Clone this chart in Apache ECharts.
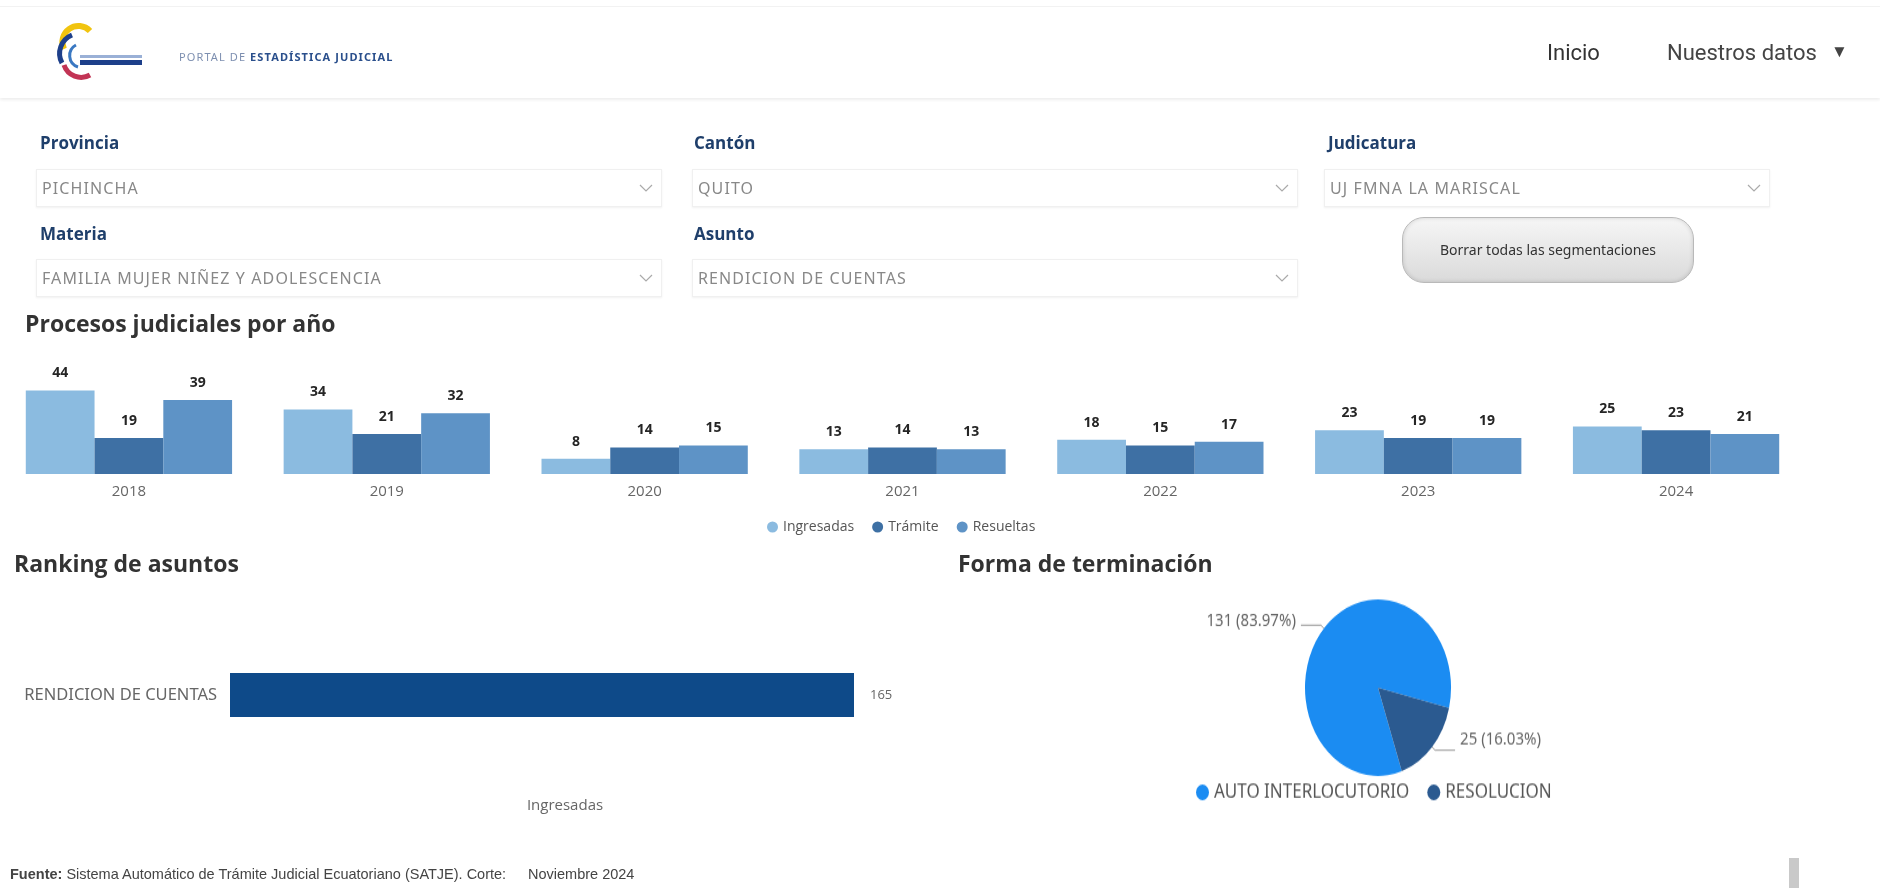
<!DOCTYPE html>
<html>
<head>
<meta charset="utf-8">
<script src="https://cdn.jsdelivr.net/npm/echarts/dist/echarts.min.js"></script>
<style>
  html, body { margin:0; padding:0; background:#fff; width:1880px; height:888px; overflow:hidden; font-family:"Open Sans","Noto Sans",Arial,sans-serif; }
  #chart { position:absolute; left:0; top:0; width:1880px; height:888px; }
  #pie { position:absolute; left:950px; top:580px; width:700px; height:200px; transform:scaleY(1.21); transform-origin:0 0; }
  .abs { position:absolute; white-space:nowrap; }
  #header { position:absolute; left:0; top:6px; width:1880px; height:91px; background:#fff; border-top:1px solid #f2f2f2; box-shadow:0 2px 3px rgba(0,0,0,0.07); }
  .flabel { position:absolute; font-weight:700; font-size:17px; color:#1f3f6b; }
  .fbox { position:absolute; height:36px; background:#fff; border:1px solid #f0f0f0; box-shadow:0 1px 2px rgba(0,0,0,0.06); }
  .fbox span { position:absolute; left:5px; top:7px; font-size:16px; letter-spacing:1.1px; color:#888; font-family:"Noto Sans",Arial,sans-serif; }
  .fbox svg { position:absolute; right:8px; top:14px; }
  #btn { position:absolute; left:1402px; top:217px; width:290px; height:64px; border-radius:22px; background:linear-gradient(#f6f6f6,#dadada); border:1px solid #b9b9b9; box-shadow:inset 0 0 4px rgba(0,0,0,0.15); font-size:14px; color:#333; text-align:center; line-height:64px; font-family:"Noto Sans",Arial,sans-serif; }
  .foot { position:absolute; top:866px; font-size:14.5px; color:#444; font-family:Arial,'Liberation Sans',sans-serif; white-space:nowrap; }
</style>
</head>
<body>
<div id="chart"></div>
<div id="pie"></div>

<div id="header">
  <svg class="abs" style="left:50px;top:12px" width="100" height="66" viewBox="0 0 100 66">
    <path d="M14 30 A16 16 0 0 1 40 12" fill="none" stroke="#f1c40f" stroke-width="6"/>
    <path d="M22 16 A20 20 0 0 0 12 44" fill="none" stroke="#1d3f8a" stroke-width="5"/>
    <path d="M14 46 A18 18 0 0 0 40 56" fill="none" stroke="#c23455" stroke-width="5"/>
    <path d="M26 26 A12 12 0 0 0 28 48" fill="none" stroke="#3a78c2" stroke-width="3"/>
    <rect x="30" y="36" width="62" height="3" fill="#9ab0d6"/>
    <rect x="30" y="41" width="62" height="5" fill="#1d3f8a"/>
  </svg>
  <div class="abs" style="left:179px;top:42px;font-size:11px;letter-spacing:1.1px;color:#7d8fb0;font-family:'Noto Sans',Arial,sans-serif">PORTAL DE <b style="color:#2a4f8c">ESTADÍSTICA JUDICIAL</b></div>
  <div class="abs" style="left:1547px;top:33px;font-size:22px;color:#333;font-family:Roboto,Arial,sans-serif">Inicio</div>
  <div class="abs" style="left:1667px;top:33px;font-size:22px;color:#444;font-family:Roboto,Arial,sans-serif">Nuestros datos<span style="font-size:17px;position:relative;top:-3px;margin-left:14px">&#9660;</span></div>
</div>

<div class="flabel" style="left:40px;top:131px">Provincia</div>
<div class="fbox" style="left:36px;top:169px;width:624px"><span>PICHINCHA</span><svg width="14" height="8"><polyline points="1,1 7,7 13,1" fill="none" stroke="#aaa" stroke-width="1.2"/></svg></div>
<div class="flabel" style="left:694px;top:131px">Cantón</div>
<div class="fbox" style="left:692px;top:169px;width:604px"><span>QUITO</span><svg width="14" height="8"><polyline points="1,1 7,7 13,1" fill="none" stroke="#aaa" stroke-width="1.2"/></svg></div>
<div class="flabel" style="left:1328px;top:131px">Judicatura</div>
<div class="fbox" style="left:1324px;top:169px;width:444px"><span>UJ FMNA LA MARISCAL</span><svg width="14" height="8"><polyline points="1,1 7,7 13,1" fill="none" stroke="#aaa" stroke-width="1.2"/></svg></div>

<div class="flabel" style="left:40px;top:222px">Materia</div>
<div class="fbox" style="left:36px;top:259px;width:624px"><span>FAMILIA MUJER NIÑEZ Y ADOLESCENCIA</span><svg width="14" height="8"><polyline points="1,1 7,7 13,1" fill="none" stroke="#aaa" stroke-width="1.2"/></svg></div>
<div class="flabel" style="left:694px;top:222px">Asunto</div>
<div class="fbox" style="left:692px;top:259px;width:604px"><span>RENDICION DE CUENTAS</span><svg width="14" height="8"><polyline points="1,1 7,7 13,1" fill="none" stroke="#aaa" stroke-width="1.2"/></svg></div>

<div id="btn">Borrar todas las segmentaciones</div>

<div class="foot" style="left:10px"><b>Fuente:</b> Sistema Automático de Trámite Judicial Ecuatoriano (SATJE). Corte:</div>
<div class="foot" style="left:528px">Noviembre 2024</div>
<div class="abs" style="left:1789px;top:858px;width:10px;height:30px;background:#c9c9c9"></div>

<script>
// ---- data ----
const years = ['2018', '2019', '2020', '2021', '2022', '2023', '2024'];
const ingresadas = [44, 34, 8, 13, 18, 23, 25];
const tramite = [19, 21, 14, 14, 15, 19, 23];
const resueltas = [39, 32, 15, 13, 17, 19, 21];
const seriesNames = ['Ingresadas', 'Trámite', 'Resueltas'];

const asuntos = ['RENDICION DE CUENTAS'];
const asuntosIngresadas = [165];

const formas = ['AUTO INTERLOCUTORIO', 'RESOLUCION'];
const formasValores = [131, 25];

// ---- styles ----
const barColors = ['#8bbbe0', '#3e70a4', '#5e93c6'];
const titleStyle = { fontSize: 23, fontWeight: 'bold', color: '#333', fontFamily: 'Open Sans' };
const valueLabel = { show: true, position: 'top', distance: 10, fontSize: 14, fontWeight: 'bold', color: '#252525', fontFamily: 'Open Sans' };

const chart = echarts.init(document.getElementById('chart'), null, { renderer: 'canvas' });

const yearSeries = [ingresadas, tramite, resueltas].map((vals, i) => ({
  name: seriesNames[i],
  type: 'bar',
  xAxisIndex: 0, yAxisIndex: 0,
  data: vals,
  barGap: '0%',
  barCategoryGap: '20%',
  itemStyle: { color: barColors[i] },
  label: valueLabel
}));

chart.setOption({
  animation: false,
  textStyle: { fontFamily: 'Open Sans' },
  title: [
    { text: 'Procesos judiciales por año', left: 25, top: 314, padding: 0, textStyle: titleStyle },
    { text: 'Ranking de asuntos', left: 14, top: 554, padding: 0, textStyle: titleStyle },
    { text: 'Forma de terminación', left: 958, top: 554, padding: 0, textStyle: titleStyle }
  ],
  legend: [
    {
      data: seriesNames, left: 767, top: 520, icon: 'circle', itemWidth: 11, itemHeight: 11, itemGap: 18,
      padding: 0, textStyle: { fontSize: 14, color: '#555' }
    }
  ],
  grid: [
    { left: 0, width: 1805, top: 379, height: 95 },
    { left: 230, width: 624, top: 640, height: 110 }
  ],
  xAxis: [
    {
      gridIndex: 0, type: 'category', data: years,
      axisLine: { show: false }, axisTick: { show: false },
      axisLabel: { color: '#666', fontSize: 15, margin: 10 }
    },
    {
      gridIndex: 1, type: 'value', min: 0, max: 'dataMax',
      axisLine: { show: false }, axisTick: { show: false }, axisLabel: { show: false }, splitLine: { show: false },
      name: 'Ingresadas', nameLocation: 'middle', nameGap: 48,
      nameTextStyle: { color: '#666', fontSize: 15, padding: [0, 0, 0, 46] }
    }
  ],
  yAxis: [
    { gridIndex: 0, type: 'value', min: 0, max: 50, show: false },
    {
      gridIndex: 1, type: 'category', data: asuntos,
      axisLine: { show: false }, axisTick: { show: false },
      axisLabel: { color: '#666', fontSize: 16.5, margin: 13, fontFamily: 'Noto Sans' }
    }
  ],
  series: [
    ...yearSeries,
    {
      name: 'Ingresadas ranking', type: 'bar', xAxisIndex: 1, yAxisIndex: 1,
      data: asuntosIngresadas, barWidth: 44,
      itemStyle: { color: '#0e4a89' },
      label: { show: true, position: 'right', distance: 16, fontSize: 13, color: '#666' }
    }
  ]
});

// Pie (drawn in its own container, stretched vertically like the reference)
const pie = echarts.init(document.getElementById('pie'), null, { renderer: 'canvas' });
pie.setOption({
  animation: false,
  textStyle: { fontFamily: 'Noto Sans' },
  legend: {
    data: formas, left: 246, top: 167, icon: 'circle', itemWidth: 13, itemHeight: 13, itemGap: 18,
    padding: 0, textStyle: { fontSize: 17, color: '#555', fontFamily: 'Noto Sans' }
  },
  series: [{
    name: 'Forma de terminación', type: 'pie',
    center: [428, 89], radius: 73, startAngle: -71, clockwise: true,
    data: formas.map((n, i) => ({ name: n, value: formasValores[i] })),
    color: ['#1b8cf2', '#2b5a90'],
    label: { show: true, formatter: '{c} ({d}%)', color: '#666', fontSize: 15, fontFamily: 'Noto Sans' },
    labelLine: { show: true, length: 4, length2: 20, lineStyle: { color: '#999', width: 1 } },
    labelLayout: function (params) {
      return { dy: params.dataIndex === 1 ? -9 : -4 };
    }
  }]
});
</script>
</body>
</html>
